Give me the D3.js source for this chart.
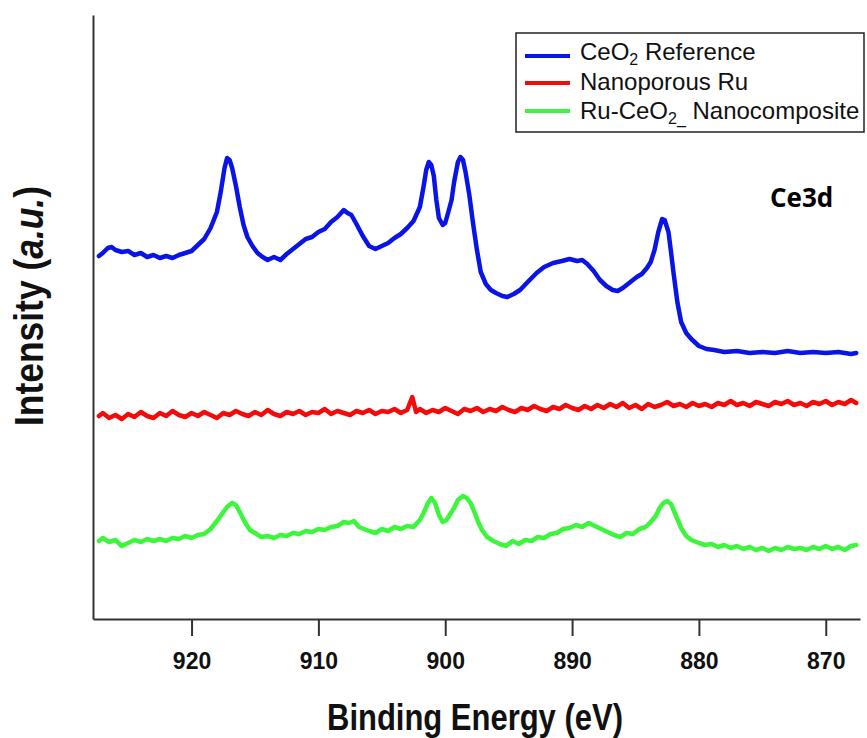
<!DOCTYPE html>
<html>
<head>
<meta charset="utf-8">
<script src="https://cdn.jsdelivr.net/npm/d3@7"></script>
<style>
  body { margin: 0; background: #fff; }
  svg { display: block; font-family: "Liberation Sans", Arial, sans-serif; }
</style>
</head>
<body>
<script>
'use strict';

// CeO2 reference (blue)
const refEnergy = [927.3, 927.0, 926.6, 926.3, 926.0, 925.5, 925.0, 924.5, 924.0, 923.5, 923.0, 922.5, 922.0, 921.5, 921.0,
  920.5, 920.0, 919.5, 919.0, 918.5, 918.0, 917.7, 917.4, 917.2, 917.0, 916.8, 916.5, 916.2, 915.9, 915.6, 915.2, 914.8,
  914.4, 914.0, 913.5, 913.0, 912.5, 912.0, 911.5, 911.0, 910.5, 910.0, 909.5, 909.0, 908.5, 908.0, 907.7, 907.4, 907.0,
  906.5, 906.0, 905.5, 905.0, 904.5, 904.0, 903.5, 903.0, 902.5, 902.0, 901.7, 901.5, 901.3, 901.1, 900.9, 900.7, 900.5,
  900.2, 900.0, 899.8, 899.5, 899.3, 899.0, 898.8, 898.6, 898.4, 898.1, 897.8, 897.5, 897.2, 896.8, 896.4, 896.0, 895.5,
  895.1, 894.6, 894.1, 893.5, 892.8, 892.2, 891.5, 890.8, 890.2, 889.6, 889.2, 888.8, 888.3, 887.8, 887.3, 886.8, 886.4,
  886.0, 885.5, 884.9, 884.5, 884.1, 883.8, 883.5, 883.2, 882.9, 882.7, 882.4, 882.2, 882.0, 881.7, 881.4, 881.0, 880.6,
  880.0, 879.4, 878.8, 878.0, 877.0, 876.0, 875.0, 874.0, 873.0, 872.0, 871.0, 870.0, 869.0, 868.0, 867.6];
const refCounts = [363, 366, 371, 372, 369, 367, 368, 364, 366, 362, 364, 361, 363, 361, 364,
  366, 368, 374, 380, 391, 407, 427, 451, 461, 459, 451, 433, 412, 394, 382, 373, 366,
  362, 359, 362, 359, 365, 370, 375, 380, 382, 387, 390, 397, 402, 409, 406, 404, 395,
  383, 373, 370, 373, 376, 381, 385, 391, 398, 412, 433, 449, 457, 454, 443, 419, 401,
  394, 396, 405, 419, 437, 457, 462, 459, 447, 424, 395, 369, 347, 335, 329, 326, 323,
  322, 325, 329, 337, 346, 352, 356, 358, 360, 358, 359, 355, 348, 339, 333, 329, 328,
  331, 336, 342, 345, 351, 357, 369, 387, 400, 399, 387, 367, 346, 317, 297, 286, 280,
  273, 270, 269, 267, 268, 266, 267, 266, 268, 266, 267, 266, 267, 265, 266];

// Nanoporous Ru (red)
const ruEnergy = [927.3, 927.0, 926.5, 926.0, 925.5, 925.0, 924.5, 924.0, 923.5, 923.0, 922.5, 922.0, 921.5, 921.0,
  920.5, 920.0, 919.5, 919.0, 918.5, 918.0, 917.5, 917.0, 916.5, 916.0, 915.5, 915.0, 914.5, 914.0, 913.5, 913.0,
  912.5, 912.0, 911.5, 911.0, 910.5, 910.0, 909.5, 909.0, 908.5, 908.0, 907.5, 907.0, 906.5, 906.0, 905.5, 905.0,
  904.5, 904.0, 903.5, 903.0, 902.6, 902.3, 902.0, 901.5, 901.0, 900.5, 900.0, 899.5, 899.0, 898.5, 898.0, 897.5,
  897.0, 896.5, 896.0, 895.5, 895.0, 894.5, 894.0, 893.5, 893.0, 892.5, 892.0, 891.5, 891.0, 890.5, 890.0, 889.5,
  889.0, 888.5, 888.0, 887.5, 887.0, 886.5, 886.0, 885.5, 885.0, 884.5, 884.0, 883.5, 883.0, 882.5, 882.0, 881.5,
  881.0, 880.5, 880.0, 879.5, 879.0, 878.5, 878.0, 877.5, 877.0, 876.5, 876.0, 875.5, 875.0, 874.5, 874.0, 873.5,
  873.0, 872.5, 872.0, 871.5, 871.0, 870.5, 870.0, 869.5, 869.0, 868.5, 868.0, 867.6];
const ruCounts = [203, 206, 201, 204, 200, 205, 202, 207, 203, 201, 206, 203, 208, 204,
  202, 206, 203, 207, 204, 201, 206, 204, 208, 205, 203, 207, 204, 209, 205, 203,
  207, 205, 208, 204, 207, 206, 210, 205, 208, 206, 204, 208, 206, 209, 205, 208,
  207, 210, 206, 209, 222, 207, 210, 206, 209, 207, 211, 208, 205, 210, 208, 211,
  207, 210, 208, 212, 209, 207, 211, 209, 213, 210, 208, 212, 210, 214, 211, 209,
  213, 210, 214, 211, 215, 212, 216, 211, 214, 210, 215, 212, 214, 217, 213, 215,
  212, 216, 213, 215, 212, 216, 214, 218, 214, 216, 213, 217, 215, 213, 217, 215,
  218, 214, 216, 213, 217, 215, 218, 214, 217, 215, 219, 216];

// Ru-CeO2 nanocomposite (green)
const compEnergy = [927.3, 927.0, 926.5, 926.0, 925.5, 925.0, 924.5, 924.0, 923.5, 923.0, 922.5, 922.0, 921.5, 921.0,
  920.5, 920.0, 919.5, 919.0, 918.5, 918.0, 917.6, 917.2, 916.8, 916.5, 916.2, 915.8, 915.4, 915.0, 914.5, 914.0,
  913.5, 913.0, 912.5, 912.0, 911.5, 911.0, 910.5, 910.0, 909.5, 909.0, 908.5, 908.0, 907.6, 907.2, 906.8, 906.4,
  906.0, 905.5, 905.0, 904.5, 904.0, 903.5, 903.0, 902.5, 902.0, 901.7, 901.4, 901.1, 900.8, 900.5, 900.2, 899.9,
  899.6, 899.3, 899.0, 898.6, 898.3, 898.0, 897.7, 897.4, 897.1, 896.7, 896.2, 895.7, 895.2, 894.7, 894.2, 893.7,
  893.2, 892.7, 892.2, 891.7, 891.2, 890.7, 890.2, 889.7, 889.2, 888.7, 888.2, 887.7, 887.2, 886.7, 886.2, 885.7,
  885.2, 884.7, 884.2, 883.8, 883.4, 883.1, 882.8, 882.5, 882.2, 882.0, 881.7, 881.4, 881.0, 880.6, 880.0, 879.5,
  879.0, 878.5, 878.0, 877.5, 877.0, 876.5, 876.0, 875.5, 875.0, 874.5, 874.0, 873.5, 873.0, 872.5, 872.0, 871.5,
  871.0, 870.5, 870.0, 869.5, 869.0, 868.5, 868.0, 867.6];
const compCounts = [78, 81, 77, 79, 73, 76, 79, 77, 80, 78, 80, 78, 81, 80,
  83, 81, 84, 85, 90, 98, 105, 112, 116, 114, 107, 97, 89, 86, 82, 83,
  81, 84, 83, 86, 85, 88, 87, 90, 89, 92, 93, 97, 96, 98, 92, 90,
  88, 86, 90, 88, 92, 90, 93, 92, 99, 106, 115, 121, 116, 104, 97, 99,
  105, 111, 119, 123, 121, 116, 107, 97, 89, 82, 78, 75, 73, 78, 75, 79,
  78, 82, 81, 85, 86, 90, 91, 94, 92, 96, 93, 90, 87, 84, 82, 86,
  85, 90, 92, 97, 103, 111, 116, 118, 115, 109, 100, 91, 83, 79, 76, 74,
  75, 72, 74, 71, 73, 70, 72, 69, 71, 68, 71, 69, 72, 70, 71, 69,
  72, 70, 73, 70, 72, 69, 73, 74];

const xTicks = [920, 910, 900, 890, 880, 870];

const seriesNames = ['CeO2 Reference', 'Nanoporous Ru', 'Ru-CeO2_ Nanocomposite'];
const seriesColors = ['#0a14e6', '#f50a0a', '#3cf53c'];

const W = 867, H = 738;
const plot = { left: 93, right: 860, top: 15, bottom: 619 };

const svg = d3.select('body').append('svg')
  .attr('width', W)
  .attr('height', H);

svg.append('rect').attr('width', W).attr('height', H).attr('fill', '#fff');

const x = d3.scaleLinear().domain([927.77, 867.3]).range([plot.left, plot.right]);
const y = d3.scaleLinear().domain([0, 604]).range([plot.bottom, plot.top]);

const series = [
  { e: refEnergy, c: refCounts },
  { e: ruEnergy, c: ruCounts },
  { e: compEnergy, c: compCounts },
];

const line = d3.line()
  .x((d) => x(d[0]))
  .y((d) => y(d[1]));

series.forEach((s, i) => {
  const pts = s.e.map((e, k) => [e, s.c[k]]);
  svg.append('path')
    .datum(pts)
    .attr('fill', 'none')
    .attr('stroke', seriesColors[i])
    .attr('stroke-width', 4.5)
    .attr('stroke-linejoin', 'round')
    .attr('stroke-linecap', 'round')
    .attr('d', line);
});

// axes
const xAxis = svg.append('g')
  .attr('transform', `translate(0,${plot.bottom})`)
  .call(d3.axisBottom(x).tickValues(xTicks).tickSize(17).tickSizeOuter(0).tickPadding(17).tickFormat(d3.format('d')));
xAxis.select('.domain').attr('stroke', '#333').attr('stroke-width', 2);
xAxis.selectAll('.tick line').attr('stroke', '#333').attr('stroke-width', 2);
xAxis.selectAll('.tick text')
  .attr('fill', '#111')
  .style('font-family', '"Liberation Sans", Arial, sans-serif')
  .style('font-size', '23px')
  .style('font-weight', 'bold');

const yAxis = svg.append('g')
  .attr('transform', `translate(${plot.left},0)`)
  .call(d3.axisLeft(y).tickValues([]).tickSizeOuter(0));
yAxis.select('.domain').attr('stroke', '#333').attr('stroke-width', 2);

// axis titles, squeezed to the narrow face of the original
function squeeze(sel, target) {
  const len = sel.node().getComputedTextLength();
  return len > 0 ? target / len : 1;
}

const xTitle = svg.append('text')
  .attr('text-anchor', 'middle')
  .style('font-size', '37px')
  .style('font-weight', 'bold')
  .attr('fill', '#111')
  .text('Binding Energy (eV)');
xTitle.attr('transform', `translate(475,730) scale(${squeeze(xTitle, 296)},1)`);

const yTitle = svg.append('text')
  .attr('text-anchor', 'middle')
  .style('font-size', '40px')
  .style('font-weight', 'bold')
  .attr('fill', '#111');
yTitle.append('tspan').text('Intensity (');
yTitle.append('tspan').style('font-style', 'italic').text('a.u.');
yTitle.append('tspan').text(')');
yTitle.attr('transform', `translate(43,306) rotate(-90) scale(${squeeze(yTitle, 240)},1)`);

svg.append('text')
  .attr('x', 770)
  .attr('y', 207)
  .style('font-family', '"Open Sans", sans-serif')
  .style('font-size', '26px')
  .style('font-weight', 'bold')
  .attr('fill', '#000')
  .text('Ce3d');

// legend
const legend = svg.append('g');
legend.append('rect')
  .attr('x', 516).attr('y', 33)
  .attr('width', 348).attr('height', 99)
  .attr('fill', '#fff')
  .attr('stroke', '#222')
  .attr('stroke-width', 1.5);

const rows = [
  { lineY: 56, textY: 60, parts: [['CeO', 0], ['2', 1], [' Reference', 0]] },
  { lineY: 83, textY: 90, parts: [['Nanoporous Ru', 0]] },
  { lineY: 111, textY: 119, parts: [['Ru-CeO', 0], ['2_', 1], [' Nanocomposite', 0]] },
];

rows.forEach((r, i) => {
  legend.append('line')
    .attr('x1', 525).attr('x2', 570)
    .attr('y1', r.lineY).attr('y2', r.lineY)
    .attr('stroke', seriesColors[i])
    .attr('stroke-width', 4);
  const t = legend.append('text')
    .attr('x', 580)
    .attr('y', r.textY)
    .attr('fill', '#111')
    .style('font-size', '24px')
    .attr('aria-label', seriesNames[i]);
  let shifted = false;
  r.parts.forEach(([txt, sub]) => {
    const span = t.append('tspan').text(txt);
    if (sub) {
      span.attr('dy', 5).style('font-size', '16px');
      shifted = true;
    } else if (shifted) {
      span.attr('dy', -5);
      shifted = false;
    }
  });
});
</script>
</body>
</html>
